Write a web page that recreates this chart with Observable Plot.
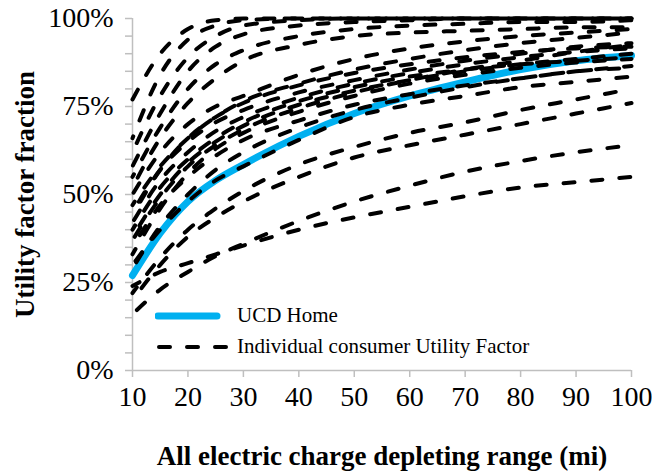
<!DOCTYPE html>
<html>
<head>
<meta charset="utf-8">
<script src="https://cdn.jsdelivr.net/npm/d3@7"></script>
<script src="https://cdn.jsdelivr.net/npm/@observablehq/plot@0.6"></script>
<style>
  html, body { margin: 0; padding: 0; background: #fff; }
  #wrap { position: relative; width: 652px; height: 473px; font-family: "Liberation Serif", "Times New Roman", serif; }
  #legend { position: absolute; left: 155px; top: 300px; font-size: 21px; color: #000; }
  #legend .row { display: flex; align-items: center; height: 31px; }
  #legend svg { width: 82px; height: 14px; }
</style>
</head>
<body>
<div id="wrap">
  <div id="chart"></div>
  <div id="legend">
    <div class="row"><svg><line x1="3" y1="7" x2="62" y2="7" stroke="#00b0f0" stroke-width="7" stroke-linecap="round"/></svg><span>UCD Home</span></div>
    <div class="row"><svg><line x1="4" y1="7" x2="78" y2="7" stroke="#000" stroke-width="4" stroke-dasharray="11,17" stroke-linecap="round"/></svg><span>Individual consumer Utility Factor</span></div>
  </div>
</div>
<script>
// All-electric range (mi)
const ranges = [10, 15, 20, 25, 30, 40, 50, 60, 70, 80, 90, 100];
// UCD Home utility factor (%)
const ucdHome = [27, 39, 48, 54, 58.5, 66.5, 73, 78, 82, 85.5, 88, 89.5];
// Individual consumer utility factors (%)
const consumer01 = [77, 90, 97, 99.5, 100, 100, 100, 100, 100, 100, 100, 100];
const consumer02 = [66, 84, 94, 98, 99.5, 100, 100, 100, 100, 100, 100, 100];
const consumer03 = [62, 78, 89, 95, 98, 99.5, 100, 100, 100, 100, 100, 100];
const consumer04 = [58, 73, 85, 92, 95.5, 98, 99, 99.5, 100, 100, 100, 100];
const consumer05 = [55, 69, 80, 87, 91, 95, 97, 98, 98.5, 99, 99, 99.5];
const consumer06 = [52, 66, 76, 83, 88, 92.5, 95, 96, 96.5, 97, 97.5, 97.5];
const consumer07 = [50, 62, 70, 75, 78, 84, 88.5, 91.5, 93.5, 95, 96, 97];
const consumer08 = [47, 58, 66, 72, 76.5, 81.5, 85.5, 88.5, 91, 93, 94.5, 96];
const consumer09 = [45, 57, 65, 70.5, 74, 79, 82.5, 85.5, 88, 90, 92, 93];
const consumer10 = [42, 54, 62, 68, 72, 77.5, 81.5, 84.5, 87, 89, 90.5, 91.5];
const consumer11 = [40, 52, 60, 66, 70.5, 76.5, 80.5, 83.5, 85.5, 87, 88, 89];
const consumer12 = [38, 50, 59, 65, 69.5, 75.5, 79.5, 82.5, 85, 87, 88.5, 90];
const consumer13 = [37, 49, 58, 64, 68.5, 74.5, 79, 82.5, 85.5, 88, 90.5, 92.5];
const consumer14 = [33, 46, 56, 63, 67.5, 73.5, 78, 81.5, 84, 86, 87.5, 88.5];
const consumer15 = [35, 47, 55, 61, 65.5, 71, 75.5, 78.5, 81, 83, 85, 86.5];
const consumer16 = [30, 40, 48, 54, 58, 65.5, 72, 75.5, 78, 80.5, 82, 83.5];
const consumer17 = [22, 32, 40, 46, 51, 58.5, 63.5, 67.5, 70.5, 74, 77, 80];
const consumer18 = [20, 30, 38, 43.5, 48, 55, 60.5, 64, 67, 70, 73, 76];
const consumer19 = [16, 23, 28, 32.5, 36, 42.5, 48, 52.5, 56.5, 59.5, 62, 64];
const consumer20 = [24, 28, 30.5, 33, 35.5, 40, 43.5, 46.5, 49.5, 52, 53.5, 55];
const consumer21 = [44, 57, 66, 72, 76, 81, 84.5, 87, 89, 90.5, 91.5, 92];
const consumer22 = [29, 41, 50, 57, 62, 69, 74, 77.5, 80.5, 83, 85, 86];

const consumers = [consumer01, consumer02, consumer03, consumer04, consumer05, consumer06,
  consumer07, consumer08, consumer09, consumer10, consumer11, consumer12, consumer13,
  consumer14, consumer15, consumer16, consumer17, consumer18, consumer19, consumer20,
  consumer21, consumer22];

const yTicks = d3.range(0, 101, 5);
const xTicks = d3.range(10, 101, 10);

const ucdRows = ranges.map((r, i) => ({range: r, uf: ucdHome[i]}));

const font = '"Liberation Serif", "Times New Roman", serif';

// one dashed line mark per consumer, each with its own dash phase
const consumerMarks = consumers.map((vals, k) =>
  Plot.line(ranges.map((r, i) => ({range: r, uf: vals[i]})), {
    x: "range", y: "uf", stroke: "#000", strokeWidth: 4,
    strokeDasharray: "11,17", strokeDashoffset: (k * 9) % 28,
    strokeLinecap: "round", curve: "monotone-x"
  })
);

const chart = Plot.plot({
  width: 652,
  height: 473,
  marginLeft: 132,
  marginRight: 21,
  marginTop: 18,
  marginBottom: 103,
  style: {fontFamily: font, fontSize: "28px", color: "#000", background: "#fff", overflow: "visible"},
  x: {domain: [10, 100]},
  y: {domain: [0, 100]},
  marks: [
    Plot.ruleX([10], {stroke: "#bfbfbf", strokeWidth: 1.5}),
    Plot.ruleY([0], {stroke: "#bfbfbf", strokeWidth: 1.5}),
    Plot.axisX({ticks: xTicks, tickSize: 7, tickPadding: 9, stroke: "#bfbfbf", strokeWidth: 1.5, fill: "#000", label: null, fontSize: 28}),
    Plot.axisY({ticks: yTicks, tickSize: 7, tickPadding: 12, stroke: "#bfbfbf", strokeWidth: 1.5, fill: "#000", label: null, fontSize: 28,
      tickFormat: d => d % 25 === 0 ? d + "%" : ""}),
    Plot.line(ucdRows, {x: "range", y: "uf", stroke: "#00b0f0", strokeWidth: 7, curve: "monotone-x", strokeLinecap: "round"}),
    ...consumerMarks,
    Plot.text(["All electric charge depleting range (mi)"], {frameAnchor: "bottom", dy: 94, fontWeight: "bold", fontSize: 27, fill: "#000"}),
    Plot.text(["Utility factor fraction"], {frameAnchor: "left", dx: -107, rotate: -90, textAnchor: "middle", fontWeight: "bold", fontSize: 27, fill: "#000"})
  ]
});
document.getElementById("chart").appendChild(chart);
</script>
</body>
</html>
